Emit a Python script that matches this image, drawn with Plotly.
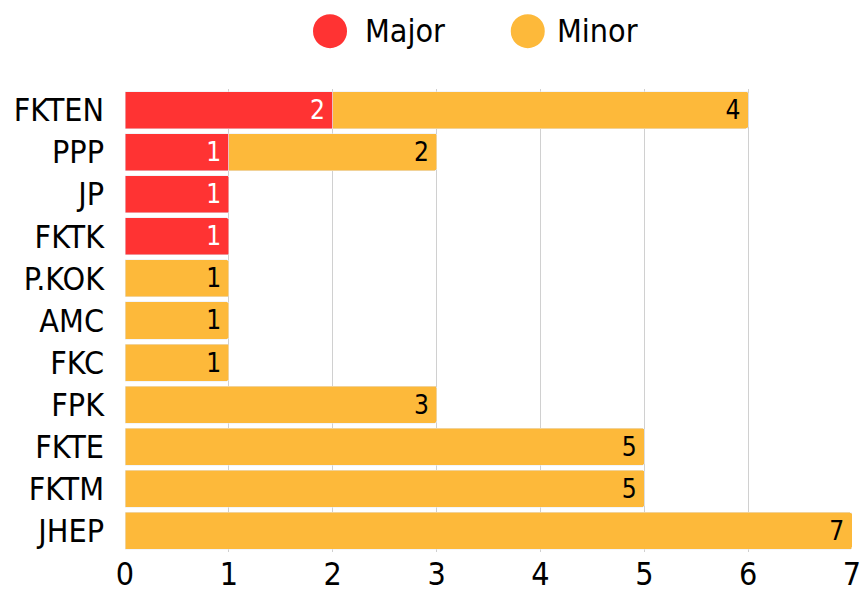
import plotly.graph_objects as go

categories = ["FKTEN", "PPP", "JP", "FKTK", "P.KOK", "AMC", "FKC", "FPK", "FKTE", "FKTM", "JHEP"]
major = [2, 1, 1, 1, None, None, None, None, None, None, None]
minor = [4, 2, None, None, 1, 1, 1, 3, 5, 5, 7]
x_ticks = [0, 1, 2, 3, 4, 5, 6, 7]
series_names = ["Major", "Minor"]

RED = "#FF3333"
ORANGE = "#FDB93A"
FONT = "DejaVu Sans Condensed"

fig = go.Figure()
fig.add_trace(go.Bar(
    y=categories, x=major, orientation="h", name=series_names[0],
    marker=dict(color=RED, cornerradius=2), showlegend=False,
    texttemplate="%{x}\u2009", textposition="inside", insidetextanchor="end", textangle=0,
    textfont=dict(color="white", size=32, family=FONT),
))
fig.add_trace(go.Bar(
    y=categories, x=minor, orientation="h", name=series_names[1],
    marker=dict(color=ORANGE, cornerradius=2), showlegend=False,
    texttemplate="%{x}\u2009", textposition="inside", insidetextanchor="end", textangle=0,
    textfont=dict(color="black", size=32, family=FONT),
))

# custom legend (large circular swatches)
legend_items = [(series_names[0], RED, 0.282, 0.327), (series_names[1], ORANGE, 0.554, 0.592)]
for nm, col, cx, tx in legend_items:
    fig.add_shape(type="circle", xref="paper", yref="paper",
                  xsizemode="pixel", ysizemode="pixel",
                  xanchor=cx, yanchor=1.125, x0=-17, x1=17, y0=-17, y1=17,
                  fillcolor=col, line=dict(width=0))
    fig.add_annotation(text=nm, xref="paper", yref="paper", x=tx, y=1.125,
                       xanchor="left", yanchor="middle", showarrow=False,
                       font=dict(size=32, family=FONT, color="black"))

fig.update_layout(
    width=862, height=597,
    barmode="stack", bargap=0.12,
    plot_bgcolor="white", paper_bgcolor="white",
    margin=dict(l=125, r=10, t=89, b=45, autoexpand=False),
    font=dict(family=FONT, size=32, color="black"),
    uniformtext=dict(minsize=10, mode="show"),
    showlegend=False,
    xaxis=dict(range=[0, 7], tickvals=x_ticks, showgrid=True, gridcolor="#D0D0D0",
               gridwidth=1, zeroline=False, ticks="", tickfont=dict(size=32),
               showline=False, automargin=False),
    yaxis=dict(categoryorder="array", categoryarray=categories, autorange="reversed",
               ticks="", ticklabelstandoff=20, tickfont=dict(size=32), showgrid=False,
               automargin=False),
)
fig.write_html("out.html", config={"displayModeBar": False},
               post_script="document.body.style.margin='0';document.body.style.overflow='hidden';")
